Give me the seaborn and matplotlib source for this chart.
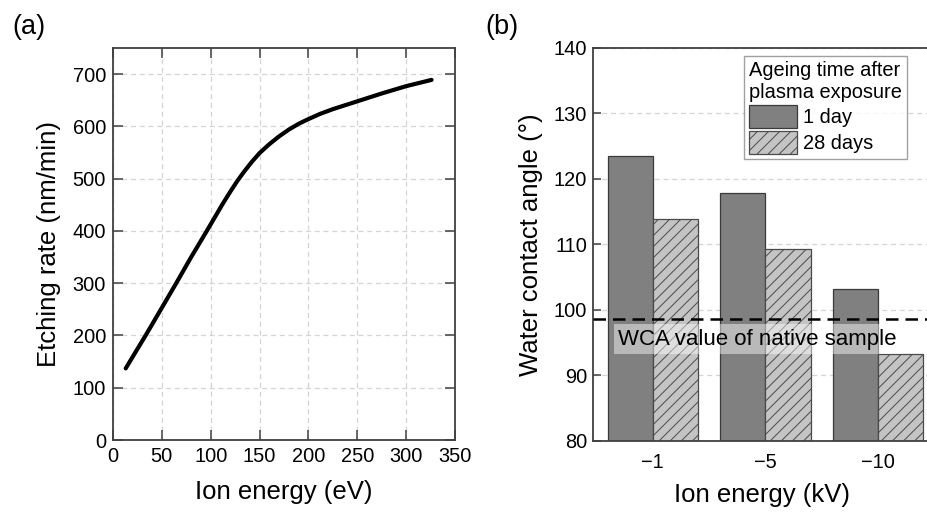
import matplotlib
matplotlib.use("Agg")
import matplotlib.pyplot as plt
import seaborn as sns
import pandas as pd
from matplotlib.patches import Patch

# ---- Data panel (a) ----
energy_ev = [13, 34, 50, 65, 80, 96, 112, 120, 127, 134, 142, 150, 160, 170, 180, 190, 200,
             212, 225, 250, 275, 300, 326]
etch_rate = [137, 202, 253, 301, 350, 400, 451, 475, 495, 513, 532, 549, 566, 581, 594, 605, 614,
             624, 633, 648, 663, 677, 689]

# ---- Data panel (b) ----
voltage_labels = ["\u22121", "\u22125", "\u221210"]
wca_1day = [123.4, 117.8, 103.2]
wca_28days = [113.8, 109.3, 93.3]
series_names = ["1 day", "28 days"]
native_wca = 98.6
native_label = "WCA value of native sample"

sns.set_theme(style="white")
plt.rcParams["font.family"] = ["Liberation Sans", "DejaVu Sans"]
plt.rcParams["hatch.linewidth"] = 0.7
for k in ["text.color", "axes.labelcolor", "xtick.labelcolor", "ytick.labelcolor"]:
    plt.rcParams[k] = "black"

spine_c = "#404040"
grid_c = "#d4d4d4"

fig = plt.figure(figsize=(9.28, 5.12), dpi=100)
axA = fig.add_axes([113/928, 72/512, 342/928, 392/512])
axB = fig.add_axes([592.7/928, 71.3/512, 338/928, 393/512])

# ---- Panel (a) ----
dfA = pd.DataFrame({"x": energy_ev, "y": etch_rate})
sns.lineplot(data=dfA, x="x", y="y", ax=axA, color="black", lw=3.0,
             solid_capstyle="round", solid_joinstyle="round", zorder=3)
axA.set_xlim(0, 350)
axA.set_ylim(0, 750)
axA.set_xticks(range(0, 351, 50))
axA.set_yticks(range(0, 701, 100))
axA.grid(True, color=grid_c, linestyle=(0, (4, 3)), lw=0.9)
axA.tick_params(direction="in", length=7, width=1.1, color=spine_c,
                bottom=True, left=True, top=True, right=True, labelsize=14.4, pad=5)
for s in axA.spines.values():
    s.set_color(spine_c); s.set_linewidth(1.3)
axA.set_xlabel("Ion energy (eV)", fontsize=18.5, labelpad=10)
axA.set_ylabel("Etching rate (nm/min)", fontsize=18.5, labelpad=8)
fig.text(12/928, 1 - 27/512, "(a)", fontsize=19.5, va="center", ha="left")

# ---- Panel (b) ----
dfB = pd.DataFrame({
    "voltage": voltage_labels * 2,
    "wca": wca_1day + wca_28days,
    "age": [series_names[0]] * 3 + [series_names[1]] * 3,
})
sns.barplot(data=dfB, x="voltage", y="wca", hue="age", ax=axB,
            palette=["#808080", "#c4c4c4"], width=0.8, gap=0,
            edgecolor="#3a3a3a", linewidth=0.9, legend=False, zorder=2)
for p in axB.containers[1]:
    p.set_hatch("///")
    p.set_edgecolor("#4a4a4a")
axB.set_ylim(80, 140)
axB.set_xlim(-0.532, 2.465)
axB.set_yticks(range(80, 141, 10))
axB.yaxis.grid(True, color=grid_c, linestyle=(0, (4, 3)), lw=0.9, zorder=0)
axB.set_axisbelow(True)
axB.tick_params(axis="y", direction="in", length=6, width=1.1, color=spine_c,
                left=True, labelsize=14.4, pad=4)
axB.tick_params(axis="x", length=0, labelsize=14.4, pad=9)
for s in axB.spines.values():
    s.set_color(spine_c); s.set_linewidth(1.3)
axB.axhline(native_wca, color="black", lw=1.8, linestyle=(0, (5, 2.8)), zorder=4)
axB.text(0.93, 95.5, native_label, fontsize=16, ha="center", va="center", zorder=5,
         bbox=dict(facecolor="white", alpha=0.45, edgecolor="none", pad=3))
axB.set_xlabel("Ion energy (kV)", fontsize=18.5, labelpad=8)
axB.set_ylabel("Water contact angle (\u00b0)", fontsize=18.5, labelpad=8)
handles = [Patch(facecolor="#808080", edgecolor="#3a3a3a", lw=0.9),
           Patch(facecolor="#c4c4c4", edgecolor="#4a4a4a", lw=0.9, hatch="///")]
leg = axB.legend(handles, series_names, title="Ageing time after\nplasma exposure",
                 loc="upper right", bbox_to_anchor=(907/928, 1 - 56/512),
                 bbox_transform=fig.transFigure,
                 fontsize=14.4, title_fontsize=14.4, frameon=True, fancybox=False,
                 edgecolor="#888888", handlelength=2.4, handleheight=1.4,
                 handletextpad=0.3, labelspacing=0.15, borderpad=0.25,
                 borderaxespad=0)
leg._legend_box.align = "left"
leg.get_frame().set_linewidth(1.0)
fig.text(485/928, 1 - 27/512, "(b)", fontsize=19.5, va="center", ha="left")

fig.savefig("out.png", dpi=100)
